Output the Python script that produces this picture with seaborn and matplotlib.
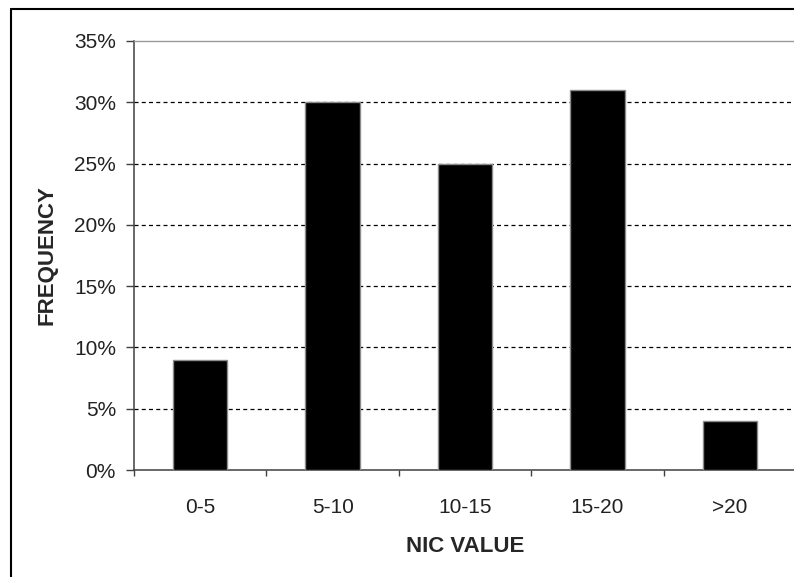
import matplotlib
matplotlib.use("Agg")
import matplotlib.pyplot as plt
from matplotlib.lines import Line2D
from matplotlib.ticker import FixedLocator, PercentFormatter
import seaborn as sns
import pandas as pd

# NIC value bins and their relative frequency
categories = ["0-5", "5-10", "10-15", "15-20", ">20"]
frequency = [0.09, 0.30, 0.25, 0.31, 0.04]
y_ticks = [0.0, 0.05, 0.10, 0.15, 0.20, 0.25, 0.30, 0.35]

sns.set_theme(style="white")
plt.rcParams["font.family"] = ["Liberation Sans", "DejaVu Sans"]

W, H = 794, 577
fig = plt.figure(figsize=(W / 100, H / 100), dpi=100)
fig.patch.set_facecolor("white")

# plot area (right edge runs just past the figure)
left, right, top, bottom = 134, 796, 41, 470
ax = fig.add_axes([left / W, 1 - bottom / H, (right - left) / W, (bottom - top) / H])

df = pd.DataFrame({"bin": categories, "freq": frequency})
sns.barplot(data=df, x="bin", y="freq", ax=ax, color="black", saturation=1,
            width=0.41, edgecolor="#8c8c8c", linewidth=1.0, zorder=3)

ax.set_xlim(-0.5, len(categories) - 0.5)
ax.set_ylim(0, 0.35)
ax.set_yticks(y_ticks)
ax.yaxis.set_major_formatter(PercentFormatter(1.0, decimals=0))

# dashed horizontal gridlines
for v in y_ticks[1:-1]:
    ax.axhline(v, color="black", linewidth=0.9, linestyle=(0, (3.2, 2.6)), zorder=1)

# spines
ax.spines["top"].set_color("#9a9a9a")
ax.spines["top"].set_linewidth(1.0)
ax.spines["right"].set_visible(False)
ax.spines["left"].set_color("#404040")
ax.spines["left"].set_linewidth(1.1)
ax.spines["bottom"].set_color("#404040")
ax.spines["bottom"].set_linewidth(1.1)

# ticks: y outward, x labels centred, tick marks on bin boundaries
ax.tick_params(axis="y", which="major", direction="out", length=6, width=1.0,
               color="#404040", pad=7, labelsize=15, labelcolor="#222222", left=True)
ax.tick_params(axis="x", which="major", length=0, pad=20, labelsize=15,
               labelcolor="#222222")
ax.xaxis.set_minor_locator(FixedLocator([i - 0.5 for i in range(len(categories) + 1)]))
ax.tick_params(axis="x", which="minor", direction="out", length=4.5, width=1.0,
               color="#404040", bottom=True)

ax.set_xlabel("NIC VALUE", fontsize=16, fontweight="bold", labelpad=14)
ax.set_ylabel("FREQUENCY", fontsize=16, fontweight="bold", labelpad=12)

# outer chart frame
fx = 10.5 / W
fy = 1 - 8.5 / H
fig.add_artist(Line2D([fx, fx], [0, fy], transform=fig.transFigure, color="black", linewidth=1.5))
fig.add_artist(Line2D([fx, 1], [fy, fy], transform=fig.transFigure, color="black", linewidth=1.5))

fig.savefig("out.png", dpi=100, facecolor="white")
